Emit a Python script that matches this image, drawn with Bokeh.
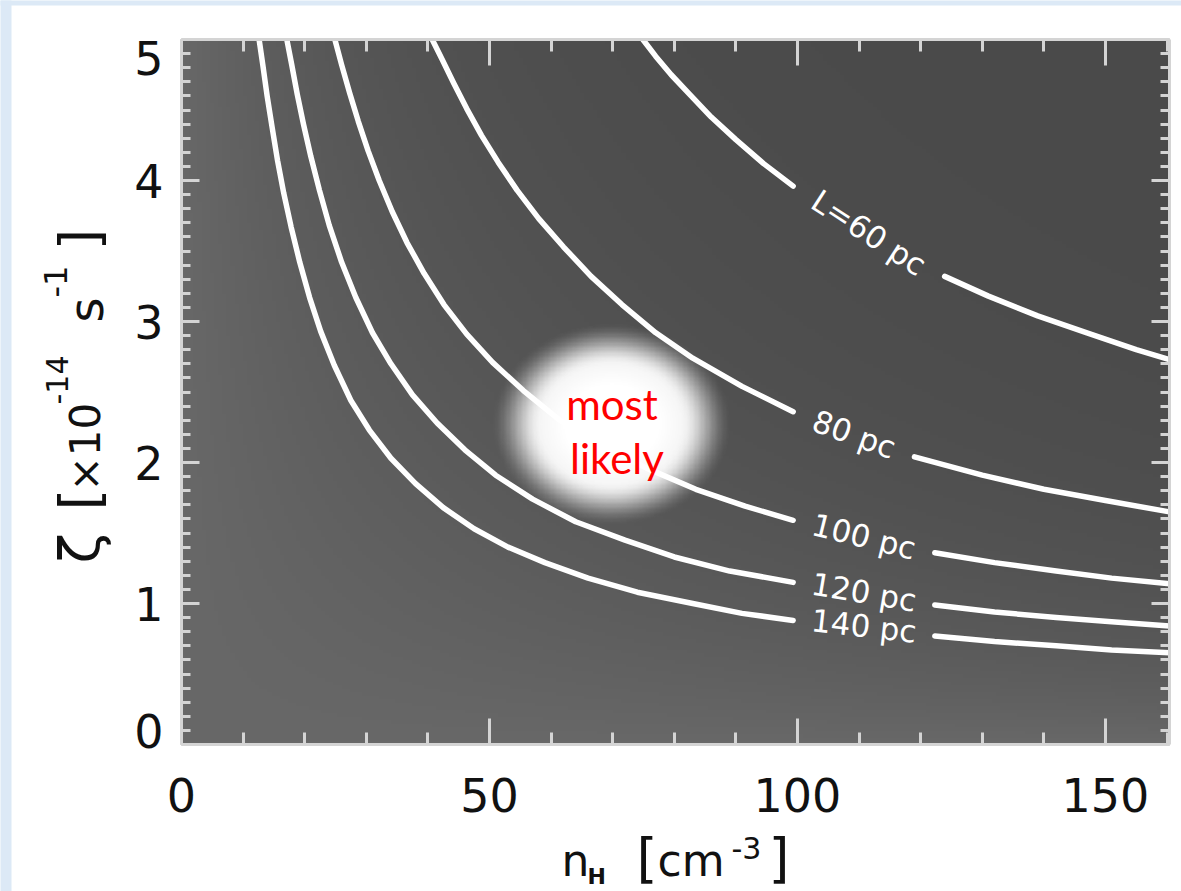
import numpy as np
from bokeh.plotting import figure
from bokeh.models import Range1d, LinearAxis, SingleIntervalTicker, BoxAnnotation
from bokeh.core.properties import value
from bokeh.embed import file_html
from bokeh.resources import INLINE

nan = float("nan")

# ---------------- data ----------------
x_ticks = [0, 50, 100, 150]
y_ticks = [0, 1, 2, 3, 4, 5]
y_tick_labels = ["0", "1", "2", "3", "4", "5"]

# constant-L curves (n_H [cm^-3], zeta [1e-14 s^-1]); nan = gap left for the label
n_60 = [74.9, 77, 79.5, 82.5, 86, 90, 94.5, 99.3, nan, 123.9, 131, 139, 147, 155, 160.4]
z_60 = [5.00, 4.88, 4.75, 4.61, 4.45, 4.29, 4.12, 3.96, nan, 3.32, 3.18, 3.04, 2.92, 2.80, 2.73]

n_80 = [40.7, 42.3, 44.2, 46.3, 48.7, 51.4, 54.5, 58, 62, 66.5, 71.5, 77, 83, 91, 99.3, nan,
        119, 130, 140, 150, 160.4]
z_80 = [5.00, 4.86, 4.69, 4.51, 4.32, 4.13, 3.93, 3.73, 3.53, 3.32, 3.12, 2.92, 2.74, 2.54, 2.36, nan,
        2.04, 1.91, 1.81, 1.73, 1.65]

n_100 = [24.9, 26, 27.3, 28.7, 30.3, 32.1, 34.2, 36.6, 39.4, 42.6, 46.3, 50.5, 55.5, 61.4, 68, 75.5,
         83.5, 91.5, 99.3, nan, 122.3, 132, 142, 151, 160.4]
z_100 = [5.00, 4.82, 4.62, 4.42, 4.21, 4.00, 3.78, 3.56, 3.34, 3.12, 2.91, 2.71, 2.51, 2.30, 2.13, 1.96,
         1.81, 1.69, 1.59, nan, 1.36, 1.29, 1.23, 1.18, 1.14]

n_120 = [17.1, 17.9, 18.8, 19.8, 21, 22.4, 24, 26, 28.3, 31, 34, 37.5, 41.5, 46, 51, 57, 64, 72, 80,
         89, 99.3, nan, 122.3, 132, 142, 151, 160.4]
z_120 = [5.00, 4.82, 4.61, 4.40, 4.17, 3.93, 3.68, 3.42, 3.17, 2.92, 2.70, 2.48, 2.28, 2.09, 1.91, 1.74,
         1.58, 1.45, 1.33, 1.23, 1.15, nan, 0.99, 0.94, 0.90, 0.87, 0.84]

n_140 = [12.6, 13.2, 13.9, 14.7, 15.6, 16.6, 17.8, 19.2, 20.8, 22.6, 24.8, 27.5, 30.5, 34, 38, 42.5,
         47.5, 53, 59, 66, 74, 83, 91, 99.3, nan, 122.3, 132, 142, 151, 160.4]
z_140 = [5.00, 4.82, 4.60, 4.38, 4.14, 3.91, 3.67, 3.42, 3.17, 2.93, 2.69, 2.44, 2.23, 2.03, 1.85, 1.68,
         1.53, 1.40, 1.29, 1.18, 1.08, 1.00, 0.93, 0.88, nan, 0.77, 0.73, 0.70, 0.67, 0.65]

curve_labels = ["L=60 pc", "80 pc", "100 pc", "120 pc", "140 pc"]
curve_label_n = [111.6, 109.2, 110.8, 110.8, 110.8]
curve_label_z = [3.63, 2.20, 1.475, 1.08, 0.84]
curve_label_angle_deg = [-33, -20, -14, -9.6, -6.4]

# "most likely" region
likely_center = (69.8, 2.27)
likely_halfwidth = (19.8, 0.73)
note_text = ["most", "likely"]
note_n = [69.9, 70.7]
note_z = [2.312, 1.922]

# ---------------- layout (pixels of the page) ----------------
W, H = 1181, 891
FL, FR, FT, FB = 181.0, 1169.0, 39.0, 744.0     # plot box
X_END = 160.4
SX = (FR - FL) / X_END
SY = (FB - FT) / 5.0


def X(px):
    return (px - FL) / SX


def Y(py):
    return (FB - py) / SY


p = figure(width=W, height=H, x_range=Range1d(X(0), X(W)), y_range=Range1d(Y(H), Y(0)),
           output_backend="svg", toolbar_location=None,
           x_axis_location=None, y_axis_location=None,
           min_border=0, min_border_left=0, min_border_right=0, min_border_top=0, min_border_bottom=0,
           background_fill_color="white", border_fill_color="white", outline_line_color=None)
p.xgrid.visible = False
p.ygrid.visible = False

# page frame strips
p.add_layout(BoxAnnotation(left=X(-5), right=X(11), bottom=Y(H + 5), top=Y(-5),
                           fill_color="#dce9f6", fill_alpha=1, line_color=None))
p.add_layout(BoxAnnotation(left=X(-5), right=X(W + 5), bottom=Y(5), top=Y(-5),
                           fill_color="#dce9f6", fill_alpha=1, line_color=None))

# background shading of the plot box
nx, ny = 240, 200
gx = np.linspace(0, X_END, nx)
gy = np.linspace(0, 5, ny)
GX, GY = np.meshgrid(gx, gy)
g = 104 - 30 * (1 - np.exp(-GX * GY / 150.0))
img = np.empty((ny, nx), dtype=np.uint32)
v = img.view(dtype=np.uint8).reshape((ny, nx, 4))
v[:, :, 0] = g
v[:, :, 1] = g
v[:, :, 2] = g
v[:, :, 3] = 255
p.image_rgba(image=[img], x=0, y=0, dw=X_END, dh=5)

# glow of the most likely region
cx, cz = likely_center
ax_, bz_ = likely_halfwidth
gw, gh = 220, 180
ex = np.linspace(cx - 1.1 * ax_, cx + 1.1 * ax_, gw)
ez = np.linspace(cz - 1.1 * bz_, cz + 1.1 * bz_, gh)
EX, EZ = np.meshgrid(ex, ez)
r = np.sqrt(((EX - cx) / ax_) ** 2 + ((EZ - cz) / bz_) ** 2)
t = np.clip((1.0 - r) / 0.42, 0, 1)
alpha = t * t * (3 - 2 * t)
shade = 228 + 27 * np.clip((1 - r) / 0.6, 0, 1)
gimg = np.empty((gh, gw), dtype=np.uint32)
gv = gimg.view(dtype=np.uint8).reshape((gh, gw, 4))
gv[:, :, 0] = shade
gv[:, :, 1] = shade
gv[:, :, 2] = shade
gv[:, :, 3] = (alpha * 255).astype(np.uint8)
p.image_rgba(image=[gimg], x=cx - 1.1 * ax_, y=cz - 1.1 * bz_, dw=2.2 * ax_, dh=2.2 * bz_)

# curves
for nn, zz in [(n_60, z_60), (n_80, z_80), (n_100, z_100), (n_120, z_120), (n_140, z_140)]:
    p.line(nn, zz, line_color="white", line_width=5.5, line_join="round", line_cap="round")

p.text(x=curve_label_n, y=curve_label_z, text=curve_labels,
       angle=[np.deg2rad(a) for a in curve_label_angle_deg],
       text_font=value("DejaVu Sans"), text_font_size="31px", text_color="white",
       text_align="center", text_baseline="middle")

p.text(x=note_n, y=note_z, text=note_text, text_font=value("Lato"), text_font_size="42px",
       text_color="#ff0000", text_align="center", text_baseline="alphabetic", y_offset=-15)

# axes (drawn on the plot box edges)
TICK = "#d4d4d4"


def make_axis(loc, bounds, interval, minor, major_in, minor_in, fixed, labels=False):
    a = LinearAxis(ticker=SingleIntervalTicker(interval=interval, num_minor_ticks=minor),
                   bounds=bounds, fixed_location=fixed)
    a.axis_line_color = TICK
    a.axis_line_width = 3
    a.major_tick_line_color = TICK
    a.major_tick_line_width = 3
    a.minor_tick_line_color = TICK
    a.minor_tick_line_width = 3
    a.major_tick_in = major_in
    a.major_tick_out = 0
    a.minor_tick_in = minor_in
    a.minor_tick_out = 0
    if labels:
        a.major_label_text_font = "DejaVu Sans"
        a.major_label_text_font_size = "46px"
        a.major_label_text_color = "#111111"
        a.major_label_standoff = 33
    else:
        a.major_label_text_color = None
        a.major_label_text_font_size = "1px"
        a.major_label_standoff = 0
    p.add_layout(a, loc)


make_axis("below", (0, X_END), 50, 5, 26, 12, 0, labels=True)
make_axis("above", (0, X_END), 50, 5, 26, 12, 5)
make_axis("left", (0, 5), 1, 10, 18, 9, 0)
make_axis("right", (0, 5), 1, 10, 18, 9, X_END)

# y tick labels (the end labels are nudged inside, as in the original)
y_label_dy = {0: -14, 5: 18}
p.text(x=[0] * len(y_ticks), y=y_ticks, text=y_tick_labels,
       x_offset=-18, y_offset=[y_label_dy.get(vv, 0) for vv in y_ticks],
       text_align="right", text_baseline="middle",
       text_font=value("DejaVu Sans"), text_font_size="46px", text_color="#111111")


# axis titles built from pieces (baseline positions in page pixels)
BASE_FIX = 0.33


def piece(px, py, txt, size, rotated=False, bold=False):
    if rotated:
        px = px - BASE_FIX * size
        ang = np.pi / 2
    else:
        py = py - BASE_FIX * size
        ang = 0.0
    p.text(x=[X(px)], y=[Y(py)], text=[txt], angle=ang, text_align="left",
           text_baseline="alphabetic", text_font=value("DejaVu Sans"),
           text_font_size=f"{size}px", text_color="#111111",
           text_font_style="bold" if bold else "normal")


piece(561, 875, "n", 44)
piece(587, 883, "H", 22, bold=True)
piece(636, 876, "[", 54)
piece(657, 875, "cm", 44)
piece(731, 857, "-3", 30)
piece(768, 876, "]", 54)

piece(97, 563, "ζ", 56, True)
piece(97, 510, "[", 56, True)
piece(99, 491, "×10", 42, True)
piece(66, 404, "-14", 30, True)
piece(101, 322, "s", 48, True)
piece(66, 297, "-1", 32, True)
piece(97, 250, "]", 56, True)

html = file_html(p, INLINE)
html = html.replace(
    "</head>",
    "<style>html,body{margin:0 !important;padding:0 !important;overflow:hidden !important;}</style></head>", 1)
open("out.html", "w").write(html)
